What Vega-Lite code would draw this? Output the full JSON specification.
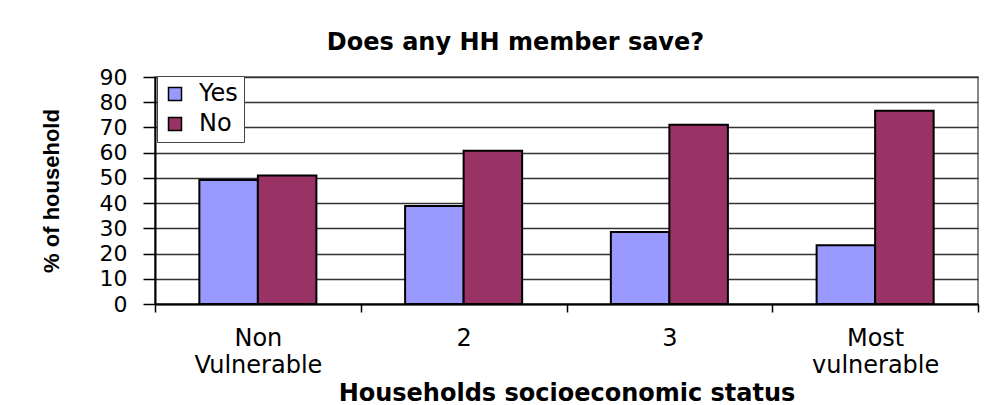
{
  "$schema": "https://vega.github.io/schema/vega-lite/v6.json",
  "width": 823,
  "height": 227,
  "autosize": {"type": "none"},
  "padding": {"left": 155, "top": 77, "right": 30, "bottom": 101},
  "background": "white",
  "data": {
    "values": [
      {"status": "Non Vulnerable", "answer": "Yes", "pct": 49.2},
      {"status": "Non Vulnerable", "answer": "No", "pct": 50.9},
      {"status": "2", "answer": "Yes", "pct": 38.9},
      {"status": "2", "answer": "No", "pct": 60.8},
      {"status": "3", "answer": "Yes", "pct": 28.5},
      {"status": "3", "answer": "No", "pct": 71.1},
      {"status": "Most vulnerable", "answer": "Yes", "pct": 23.3},
      {"status": "Most vulnerable", "answer": "No", "pct": 76.6}
    ]
  },
  "title": {
    "text": "Does any HH member save?",
    "font": "DejaVu Sans",
    "fontSize": 24,
    "fontWeight": "bold",
    "color": "#000000",
    "anchor": "middle",
    "dx": -51,
    "offset": 11
  },
  "mark": {"type": "bar", "stroke": "#000000", "strokeWidth": 2},
  "encoding": {
    "x": {
      "field": "status",
      "type": "nominal",
      "sort": ["Non Vulnerable", "2", "3", "Most vulnerable"],
      "scale": {"paddingInner": 0, "paddingOuter": 0},
      "axis": {
        "title": "Households socioeconomic status",
        "labelAngle": 0,
        "tickBand": "extent",
        "labelExpr": "split(datum.label, ' ')",
        "labelFont": "DejaVu Sans",
        "labelFontSize": 24,
        "labelColor": "#000000",
        "labelLineHeight": 27,
        "labelPadding": 14,
        "tickSize": 8,
        "tickColor": "#000000",
        "tickWidth": 1.5,
        "domainColor": "#000000",
        "domainWidth": 2,
        "grid": false,
        "titleFont": "DejaVu Sans",
        "titleFontSize": 24,
        "titleFontWeight": "bold",
        "titleColor": "#000000",
        "titlePadding": 4
      }
    },
    "xOffset": {
      "field": "answer",
      "type": "nominal",
      "sort": ["Yes", "No"],
      "scale": {"paddingInner": 0, "paddingOuter": 0.758}
    },
    "y": {
      "field": "pct",
      "type": "quantitative",
      "scale": {"domain": [0, 90], "nice": false},
      "axis": {
        "title": "% of household",
        "values": [0, 10, 20, 30, 40, 50, 60, 70, 80, 90],
        "labelFont": "DejaVu Sans",
        "labelFontSize": 22,
        "labelColor": "#000000",
        "labelPadding": 16,
        "tickSize": 12,
        "tickColor": "#000000",
        "tickWidth": 1.5,
        "domainColor": "#000000",
        "domainWidth": 2,
        "gridColor": "#333333",
        "gridWidth": 1.5,
        "titleFont": "Liberation Sans",
        "titleFontSize": 22,
        "titleFontWeight": "bold",
        "titleColor": "#000000",
        "titlePadding": 36
      }
    },
    "color": {
      "field": "answer",
      "type": "nominal",
      "sort": ["Yes", "No"],
      "scale": {"domain": ["Yes", "No"], "range": ["#9999FF", "#993366"]},
      "legend": {
        "title": null,
        "orient": "none",
        "legendX": 2,
        "legendY": -1,
        "direction": "vertical",
        "fillColor": "#ffffff",
        "strokeColor": "#444444",
        "padding": 6,
        "symbolType": "square",
        "symbolSize": 169,
        "symbolStrokeColor": "#000000",
        "symbolStrokeWidth": 1.5,
        "symbolOpacity": 1,
        "labelFont": "DejaVu Sans",
        "labelFontSize": 24,
        "labelColor": "#000000",
        "labelOffset": 12,
        "rowPadding": 6
      }
    }
  },
  "config": {
    "view": {"stroke": "#888888", "strokeWidth": 2},
    "bar": {"opacity": 1}
  }
}
